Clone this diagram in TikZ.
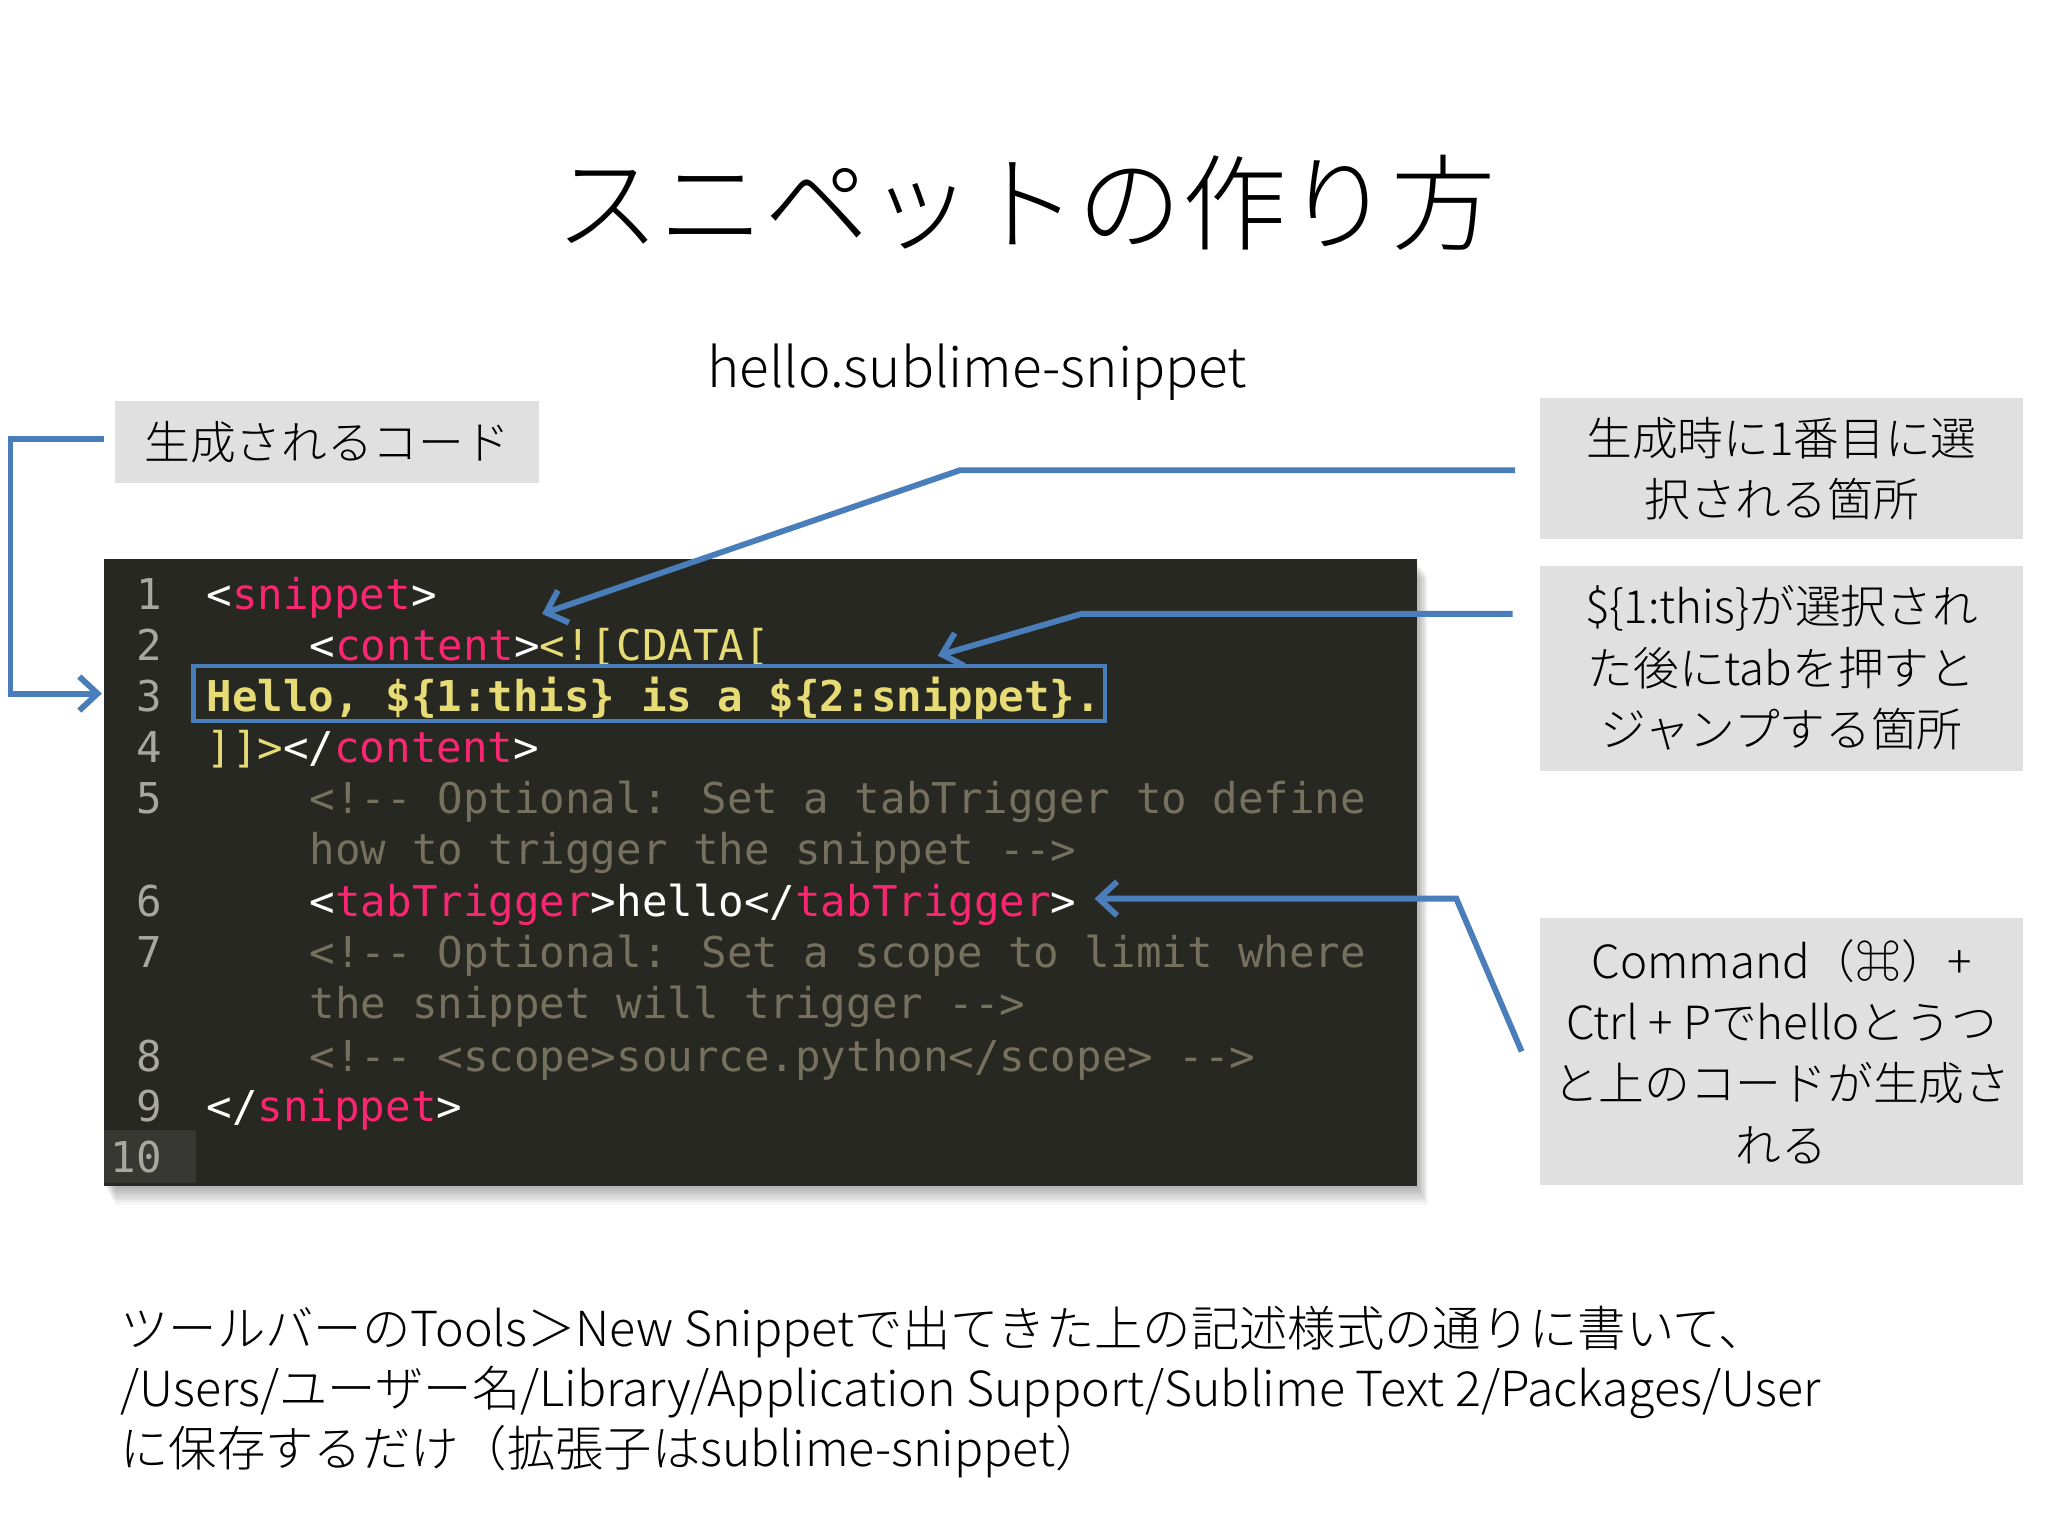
\documentclass[tikz,border=0pt]{standalone}
\usepackage{fontspec}
\setmainfont{Noto Sans CJK JP}
\newfontfamily\jp{Noto Sans CJK JP Light}
\newfontfamily\code{DejaVu Sans Mono}
\usetikzlibrary{shadows,arrows.meta}
\definecolor{bl}{HTML}{4A7EBB}
\definecolor{gbox}{HTML}{E0E0E0}
\definecolor{bg}{HTML}{272822}
\definecolor{tg}{HTML}{F92672}
\definecolor{yl}{HTML}{E6DB74}
\definecolor{cm}{HTML}{75715E}
\definecolor{ln}{HTML}{A8A8A0}
\tikzset{
 lbl/.style={fill=gbox,align=center,font=\fontsize{35}{47}\selectfont\jp,inner sep=0pt},
 cl/.style={anchor=base west,inner sep=0pt,font=\fontsize{32.5}{39}\selectfont\code,text=white},
 num/.style={anchor=base east,inner sep=0pt,font=\fontsize{32.5}{39}\selectfont\code,text=ln},
 arr/.style={draw=bl,line width=4.5pt,-{Straight Barb[length=14pt,width=26pt,line width=4.5pt]}},
}
\begin{document}
\begin{tikzpicture}[x=1pt,y=-1pt]
\useasboundingbox[fill=white] (0,0) rectangle (1568,1176);
\node (title) at (785,155) {\fontsize{80}{80}\selectfont\jp スニペットの作り方};
\node (fname) at (748,285) {\fontsize{42}{42}\selectfont\jp hello.sublime-snippet};
\node[lbl,minimum width=325pt,minimum height=63pt] (lab) at (250.5,338.5) {生成されるコード};
% code block
\foreach \i in {1,...,8}{\fill[black,opacity=0.04] (80+\i,430+1.5*\i) rectangle (1085+\i,908+1.8*\i);}
\node[fill=bg,minimum width=1005pt,minimum height=480pt,inner sep=0pt] (codebox) at (582.5,668) {};
\fill[white,opacity=0.08] (80,865) rectangle (150,906);
\foreach \n/\y in {1/467,2/506,3/545,4/584,5/623,6/702,7/741,8/820,9/859,10/898}
  \node[num] (n\n) at (124,\y) {\n};
\node[cl] (c1) at (158,467) {<\textcolor{tg}{snippet}>};
\node[cl] (c2) at (237,506) {<\textcolor{tg}{content}>\textcolor{yl}{<![CDATA[}};
\node[cl,text=yl,font=\fontsize{32.5}{39}\selectfont\code\bfseries] (c3) at (158,545) {Hello, \$\{1:this\} is a \$\{2:snippet\}.};
\node[cl] (c4) at (158,584) {\textcolor{yl}{]]>}</\textcolor{tg}{content}>};
\node[cl,text=cm] (c5) at (237,623) {<!-{}- Optional: Set a tabTrigger to define};
\node[cl,text=cm] (c5b) at (237,662) {how to trigger the snippet -{}->};
\node[cl] (c6) at (237,702) {<\textcolor{tg}{tabTrigger}>hello</\textcolor{tg}{tabTrigger}>};
\node[cl,text=cm] (c7) at (237,741) {<!-{}- Optional: Set a scope to limit where};
\node[cl,text=cm] (c7b) at (237,780) {the snippet will trigger -{}->};
\node[cl,text=cm] (c8) at (237,820) {<!-{}- <scope>source.python</scope> -{}->};
\node[cl] (c9) at (158,859) {</\textcolor{tg}{snippet}>};
\node[draw=bl,line width=3.5pt,minimum width=698pt,minimum height=42pt,inner sep=0pt] (hl) at (497,531) {};
% right labels
\node[lbl,minimum width=370pt,minimum height=108pt] (r1) at (1364,359) {生成時に1番目に選\\択される箇所};
\node[lbl,minimum width=370pt,minimum height=157pt] (r2) at (1364,511.5) {\$\{1:this\}が選択され\\た後にtabを押すと\\ジャンプする箇所};
\node[lbl,minimum width=370pt,minimum height=204pt] (r3) at (1364,805) {Command（⌘）+\\Ctrl + Pでhelloとうつ\\と上のコードが生成さ\\れる};
% arrows
\coordinate (a1) at (1160,360); \coordinate (a1b) at (735,360); \coordinate (a1e) at (415,470);
\draw[arr] (a1) -- (a1b) -- (a1e);
\coordinate (a2) at (1158,470); \coordinate (a2b) at (828,470); \coordinate (a2e) at (718,502);
\draw[arr] (a2) -- (a2b) -- (a2e);
\coordinate (a3) at (1165,805); \coordinate (a3b) at (1115,688); \coordinate (a3e) at (838,688);
\draw[arr] (a3) -- (a3b) -- (a3e);
\coordinate (b0) at (80,336); \coordinate (b1) at (8,336); \coordinate (b2) at (8,531); \coordinate (b3) at (78,531);
\draw[arr] (b0) -- (b1) -- (b2) -- (b3);
% bottom text
\node[anchor=base west,inner sep=0pt,align=left,font=\fontsize{37}{46}\selectfont\jp] (foot) at (92,1123) {ツールバーのTools＞New Snippetで出てきた上の記述様式の通りに書いて、\\/Users/ユーザー名/Library/Application Support/Sublime Text 2/Packages/User\\に保存するだけ（拡張子はsublime-snippet）};
\end{tikzpicture}
\end{document}
